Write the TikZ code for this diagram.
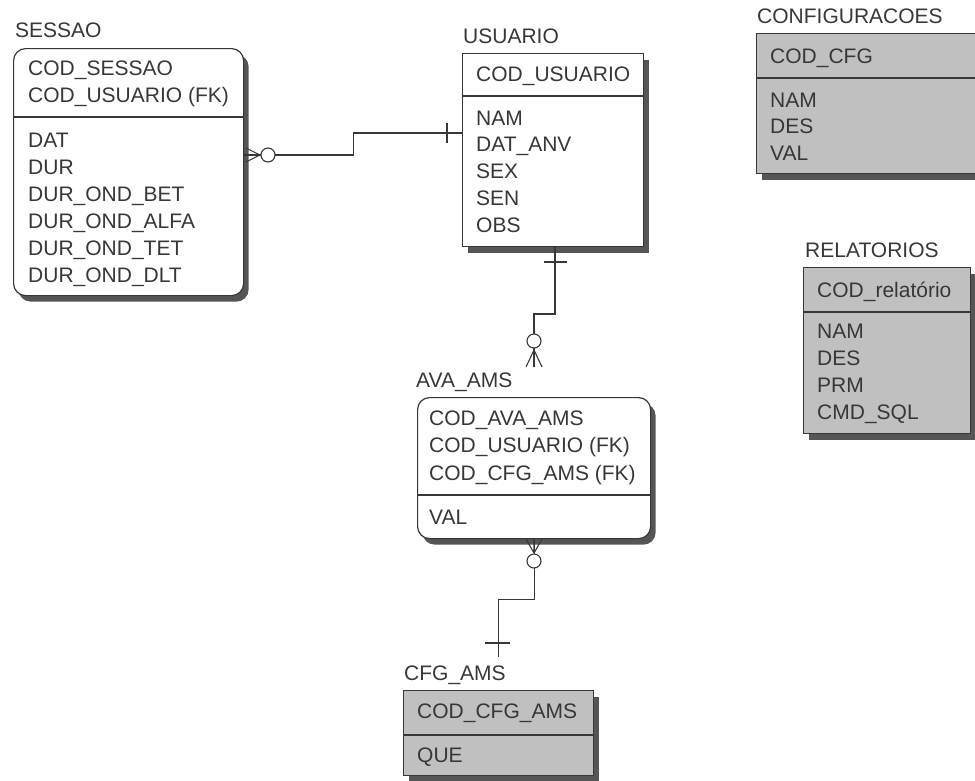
\documentclass[tikz,border=0pt]{standalone}
\usepackage{fontspec}
\setmainfont{Liberation Sans}
\usetikzlibrary{shadows}
\definecolor{tinta}{RGB}{55,55,55}
\definecolor{cinzaer}{RGB}{192,192,192}
\begin{document}
\begin{tikzpicture}[x=1pt,y=-1pt,
  tabela/.style={draw=tinta,line width=1.2pt,anchor=north west,inner sep=0pt,fill=white,
    drop shadow={shadow xshift=5pt,shadow yshift=-6pt,fill=tinta!85,opacity=1}},
  dependente/.style={tabela,rounded corners=12pt},
  independente/.style={tabela,fill=cinzaer},
  titulo/.style={anchor=base west,inner sep=0pt,font=\fontsize{21}{24}\selectfont,text=tinta},
  campo/.style={titulo},
  divisor/.style={draw=tinta,line width=1.2pt},
  ligacao/.style={draw=tinta,line width=1.1pt},
  marca/.style={draw=tinta,line width=1.1pt}]
  \path[use as bounding box] (0,0) rectangle (975,780);
  \clip (0,0) rectangle (975,780);
  \node[dependente,minimum width=230pt,minimum height=247pt] (sessao) at (13,48) {};
  \node[tabela,minimum width=181pt,minimum height=193pt] (usuario) at (462,53) {};
  \node[independente,minimum width=240pt,minimum height=140pt] (config) at (756,33) {};
  \node[independente,minimum width=167pt,minimum height=166pt] (relat) at (803,267) {};
  \node[dependente,minimum width=233pt,minimum height=141pt] (ava) at (417,397) {};
  \node[independente,minimum width=190pt,minimum height=85pt] (cfg) at (403,690) {};
  \draw[divisor] (sessao.west |- 0,117) -- (sessao.east |- 0,117);
  \draw[divisor] (usuario.west |- 0,96) -- (usuario.east |- 0,96);
  \draw[divisor] (config.west |- 0,78) -- (config.east |- 0,78);
  \draw[divisor] (relat.west |- 0,312) -- (relat.east |- 0,312);
  \draw[divisor] (ava.west |- 0,495) -- (ava.east |- 0,495);
  \draw[divisor] (cfg.west |- 0,735) -- (cfg.east |- 0,735);
  \node[titulo] (sessaoT) at (15,37) {SESSAO};
  \node[titulo] (usuarioT) at (463,43) {USUARIO};
  \node[titulo] (configT) at (757,23) {CONFIGURACOES};
  \node[titulo] (relatT) at (805,257) {RELATORIOS};
  \node[titulo] (avaT) at (416,387) {AVA\_AMS};
  \node[titulo] (cfgT) at (404,680) {CFG\_AMS};
  \foreach \t [count=\i] in {COD\_SESSAO,COD\_USUARIO (FK)}
    \node[campo] (sk\i) at (28,48+27*\i) {\t};
  \foreach \t [count=\i] in {DAT,DUR,DUR\_OND\_BET,DUR\_OND\_ALFA,DUR\_OND\_TET,DUR\_OND\_DLT}
    \node[campo] (sa\i) at (28,120+27*\i) {\t};
  \node[campo] (uk1) at (476,81) {COD\_USUARIO};
  \foreach \t [count=\i] in {NAM,DAT\_ANV,SEX,SEN,OBS}
    \node[campo] (ua\i) at (476,98.2+26.8*\i) {\t};
  \node[campo] (ck1) at (770,63) {COD\_CFG};
  \foreach \t [count=\i] in {NAM,DES,VAL}
    \node[campo] (ca\i) at (770,80.5+26.5*\i) {\t};
  \node[campo] (rk1) at (817,297) {COD\_relatório};
  \foreach \t [count=\i] in {NAM,DES,PRM,CMD\_SQL}
    \node[campo] (ra\i) at (817,311+27*\i) {\t};
  \foreach \t [count=\i] in {COD\_AVA\_AMS,COD\_USUARIO (FK),COD\_CFG\_AMS (FK)}
    \node[campo] (ak\i) at (429,397.5+27.5*\i) {\t};
  \node[campo] (aa1) at (429,524) {VAL};
  \node[campo] (fk1) at (417,718) {COD\_CFG\_AMS};
  \node[campo] (fa1) at (417,762) {QUE};
  \coordinate (a1) at (534,367);
  \draw[ligacao] (sessao.east |- 0,155) -- ++(109,0) |- (usuario.west |- 0,133);
  \draw[marca] (260,155) -- (246,148) (260,155) -- (246,155) (260,155) -- (246,162);
  \draw[marca,fill=white] (268,155) circle (7);
  \draw[marca] (447,123) -- (447,143);
  \draw[ligacao] (usuario.south -| 555,0) |- (534,314) -- (a1);
  \draw[marca] (544,262) -- (567,262);
  \draw[marca,fill=white] (534,341) circle (7);
  \draw[marca] (534,350) -- (526,367) (534,350) -- (534,367) (534,350) -- (542,367);
  \draw[ligacao] (ava.south) -- ++(0,60) -| ([yshift=33pt]cfg.north);
  \draw[marca] (534,553) -- (526,539) (534,553) -- (534,539) (534,553) -- (542,539);
  \draw[marca,fill=white] (534,561) circle (7);
  \draw[marca] (485,643) -- (510,643);
\end{tikzpicture}
\end{document}
